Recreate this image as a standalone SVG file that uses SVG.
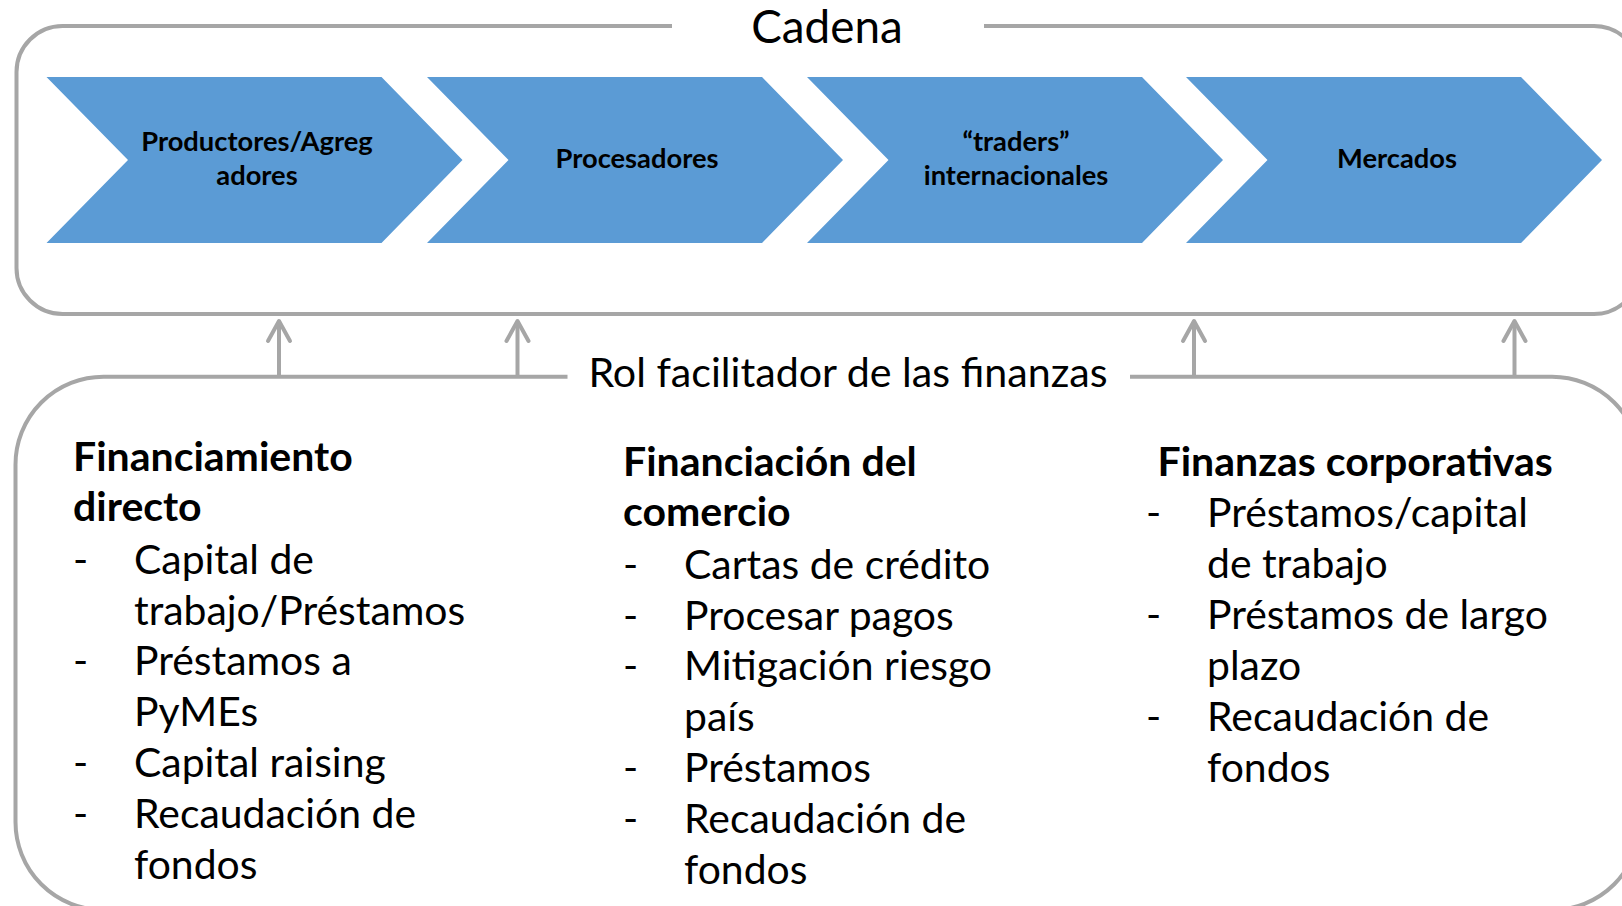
<svg xmlns="http://www.w3.org/2000/svg" width="1622" height="906" viewBox="0 0 1622 906">
<defs>
<style>
.frame{fill:none;stroke:#A6A6A6;stroke-width:4;}
.chev{fill:#5B9BD5;}
.ct{font-family:Lato,'Liberation Sans',sans-serif;font-weight:bold;font-size:27.3px;fill:#000;text-anchor:middle;}
.title{font-family:Lato,'Liberation Sans',sans-serif;font-size:45.8px;fill:#000;}
.sub{font-family:Lato,'Liberation Sans',sans-serif;font-size:41.2px;fill:#000;}
.h{font-family:Lato,'Liberation Sans',sans-serif;font-weight:bold;font-size:41px;fill:#000;}
.b{font-family:Lato,'Liberation Sans',sans-serif;font-size:40.9px;fill:#000;}
.arr{fill:none;stroke:#A6A6A6;stroke-width:4;marker-end:url(#ah);}
</style>
<marker id="ah" markerUnits="userSpaceOnUse" viewBox="-25 -15 30 30" markerWidth="30" markerHeight="30" refX="0" refY="0" orient="auto" overflow="visible">
<path d="M-20,-11 L0,0 L-20,11" fill="none" stroke="#A6A6A6" stroke-width="4" stroke-linecap="round" stroke-linejoin="round"/>
</marker>
</defs>
<rect width="1622" height="906" fill="#fff"/>

<g id="cadena-frame">
<path class="frame" d="M984,26 H1594 A46,46 0 0 1 1640,72 V268 A46,46 0 0 1 1594,314 H62.5 A46,46 0 0 1 16.5,268 V72 A46,46 0 0 1 62.5,26 H672"/>
<text class="title" x="827" y="43" text-anchor="middle">Cadena</text>
</g>

<g id="node-productores">
<polygon class="chev" points="46.5,77 381.5,77 462.5,160 381.5,243 46.5,243 128,160"/>
<text class="ct" x="257" y="151.3">Productores/Agreg</text>
<text class="ct" x="257" y="184.5">adores</text>
</g>
<g id="node-procesadores">
<polygon class="chev" points="427,77 762,77 843,160 762,243 427,243 508.5,160"/>
<text class="ct" x="637" y="167.5">Procesadores</text>
</g>
<g id="node-traders">
<polygon class="chev" points="807,77 1142,77 1223,160 1142,243 807,243 888.5,160"/>
<text class="ct" x="1016" y="151.3">“traders”</text>
<text class="ct" x="1016" y="184.5">internacionales</text>
</g>
<g id="node-mercados">
<polygon class="chev" points="1186,77 1521,77 1602,160 1521,243 1186,243 1267.5,160"/>
<text class="ct" x="1397" y="167.5">Mercados</text>
</g>

<g id="finanzas-frame">
<path class="frame" d="M1130,376.7 H1552 A88,88 0 0 1 1640,464.7 V822 A88,88 0 0 1 1552,910 H103.5 A88,88 0 0 1 15.5,822 V464.7 A88,88 0 0 1 103.5,376.7 H567.5"/>
<text class="sub" x="848" y="387" text-anchor="middle">Rol facilitador de las finanzas</text>
</g>

<g id="connectors">
<line class="arr" x1="279" y1="376.7" x2="279" y2="321"/>
<line class="arr" x1="517.5" y1="376.7" x2="517.5" y2="321"/>
<line class="arr" x1="1194" y1="376.7" x2="1194" y2="321"/>
<line class="arr" x1="1514.5" y1="376.7" x2="1514.5" y2="321"/>
</g>

<g id="node-financiamiento-directo">
<text class="h" x="73" y="471">Financiamiento</text>
<text class="h" x="73" y="521">directo</text>
<text class="b" x="73" y="574">-</text>
<text class="b" x="134" y="574">Capital de</text>
<text class="b" x="134" y="625">trabajo/Préstamos</text>
<text class="b" x="73" y="675">-</text>
<text class="b" x="134" y="675">Préstamos a</text>
<text class="b" x="134" y="726">PyMEs</text>
<text class="b" x="73" y="777">-</text>
<text class="b" x="134" y="777">Capital raising</text>
<text class="b" x="73" y="828">-</text>
<text class="b" x="134" y="828">Recaudación de</text>
<text class="b" x="134" y="879">fondos</text>
</g>

<g id="node-financiacion-comercio">
<text class="h" x="623" y="476">Financiación del</text>
<text class="h" x="623" y="526">comercio</text>
<text class="b" x="623" y="579">-</text>
<text class="b" x="684" y="579">Cartas de crédito</text>
<text class="b" x="623" y="630">-</text>
<text class="b" x="684" y="630">Procesar pagos</text>
<text class="b" x="623" y="680">-</text>
<text class="b" x="684" y="680">Mitigación riesgo</text>
<text class="b" x="684" y="731">país</text>
<text class="b" x="623" y="782">-</text>
<text class="b" x="684" y="782">Préstamos</text>
<text class="b" x="623" y="833">-</text>
<text class="b" x="684" y="833">Recaudación de</text>
<text class="b" x="684" y="884">fondos</text>
</g>

<g id="node-finanzas-corporativas">
<text class="h" x="1157.5" y="476">Finanzas corporativas</text>
<text class="b" x="1146" y="527">-</text>
<text class="b" x="1207" y="527">Préstamos/capital</text>
<text class="b" x="1207" y="578">de trabajo</text>
<text class="b" x="1146" y="629">-</text>
<text class="b" x="1207" y="629">Préstamos de largo</text>
<text class="b" x="1207" y="680">plazo</text>
<text class="b" x="1146" y="731">-</text>
<text class="b" x="1207" y="731">Recaudación de</text>
<text class="b" x="1207" y="782">fondos</text>
</g>
</svg>
